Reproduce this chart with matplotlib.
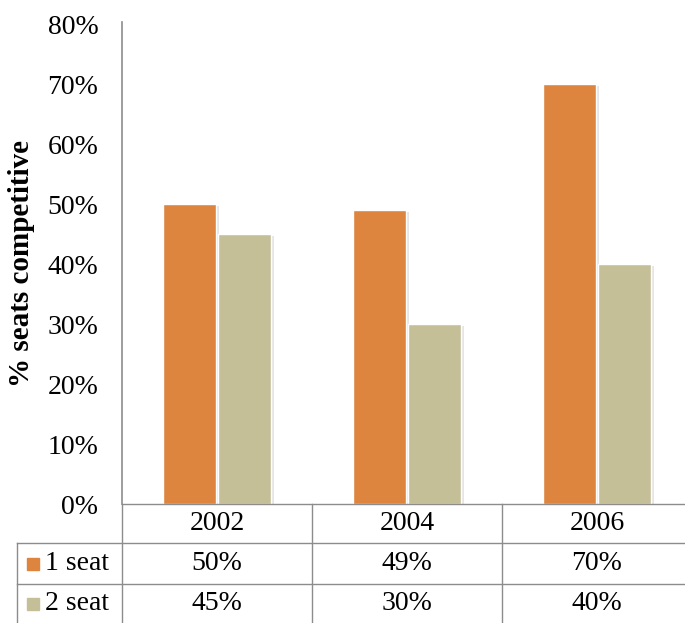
import matplotlib
matplotlib.use("Agg")
import matplotlib.pyplot as plt
import numpy as np

years = ["2002", "2004", "2006"]
series_names = ["1 seat", "2 seat"]
one_seat = [0.50, 0.49, 0.70]
two_seat = [0.45, 0.30, 0.40]
series_colors = ["#DD843F", "#C5BF98"]
yticks = [0.0, 0.1, 0.2, 0.3, 0.4, 0.5, 0.6, 0.7, 0.8]

W, H = 685, 623
plt.rcParams["font.family"] = ["Liberation Serif", "DejaVu Serif"]
fig = plt.figure(figsize=(W / 100, H / 100), dpi=100)

# axes box in pixels: left 122, 0% at y=504 (from top), 80% at y=24
ax_left, ax_bottom_px, ax_top_px, ax_right = 122, 504, 24, 692
ax = fig.add_axes([ax_left / W, 1 - ax_bottom_px / H,
                   (ax_right - ax_left) / W, (ax_bottom_px - ax_top_px) / H])

x = np.arange(len(years))
bw = 0.28
gap = 0.005
values = [one_seat, two_seat]
offsets = [-(bw / 2 + gap), bw / 2 + gap]

# soft shadow behind bars
for vals, off in zip(values, offsets):
    ax.bar(x + off + 0.008, vals, bw + 0.01, bottom=-0.004, color="#d4d4d4",
           alpha=0.6, zorder=1, linewidth=0)
for vals, off, c in zip(values, offsets, series_colors):
    ax.bar(x + off, vals, bw, color=c, edgecolor="white", linewidth=1.0, zorder=2)

ax.set_xlim(-0.5, 2.5)
ax.set_ylim(0, 0.8)
ax.set_yticks(yticks)
ax.set_yticklabels([f"{int(round(v * 100))}%" for v in yticks], fontsize=20)
ax.tick_params(axis="y", length=0, pad=27 - 10)
ax.set_xticks([])
for s in ["top", "right", "bottom"]:
    ax.spines[s].set_visible(False)
ax.spines["left"].set_color("#8c8c8c")
ax.spines["left"].set_linewidth(1.2)
ax.spines["left"].set_bounds(0, 0.8 + 2 / 480 * 0.8)

fig.text(22 / W, 1 - 263 / H, "% seats competitive", rotation=90, fontsize=21,
         fontweight="bold", ha="center", va="center")

# data table under the chart, in pixel coordinates
col_edges_px = [ax_left + (e + 0.5) / 3.0 * (ax_right - ax_left)
                for e in [-0.5, 0.5, 1.5, 2.5]]
line_kw = dict(color="#8c8c8c", linewidth=1.0)

def hline(x0, x1, y):
    fig.add_artist(plt.Line2D([x0 / W, x1 / W], [1 - y / H, 1 - y / H], **line_kw))

def vline(xp, y0, y1):
    fig.add_artist(plt.Line2D([xp / W, xp / W], [1 - y0 / H, 1 - y1 / H], **line_kw))

hline(122, 700, 504)
hline(17, 700, 543)
hline(17, 700, 584)
vline(17, 543, 640)
vline(122, 504, 640)
for e in col_edges_px[1:3]:
    vline(e, 504, 640)

centers_px = [(col_edges_px[i] + col_edges_px[i + 1]) / 2 for i in range(3)]
for cx, yr in zip(centers_px, years):
    fig.text(cx / W, 1 - 524 / H, yr, fontsize=20, ha="center", va="center")

row_centers = [564, 604]
for name, vals, c, ry in zip(series_names, values, series_colors, row_centers):
    fig.patches.append(plt.Rectangle((27 / W, 1 - (ry + 6) / H), 12 / W, 12 / H,
                                     transform=fig.transFigure, color=c))
    fig.text(45 / W, 1 - ry / H, name, fontsize=20, ha="left", va="center")
    for cx, v in zip(centers_px, vals):
        fig.text(cx / W, 1 - ry / H, f"{int(round(v * 100))}%", fontsize=20,
                 ha="center", va="center")

fig.savefig("out.png", dpi=100)
